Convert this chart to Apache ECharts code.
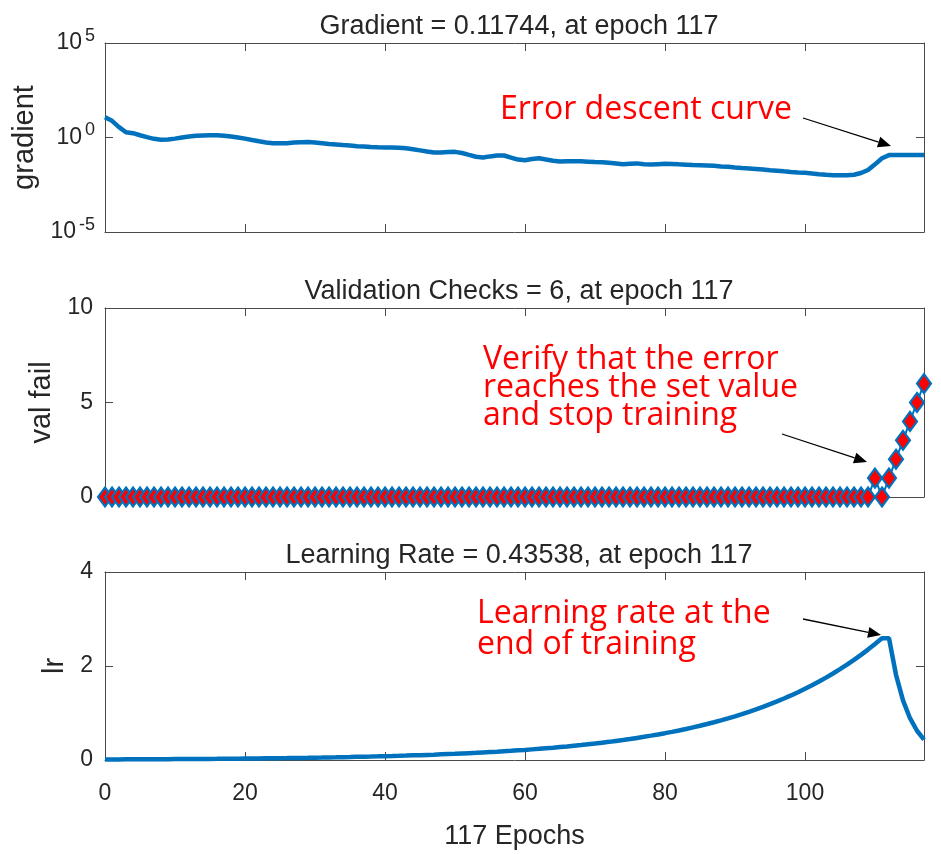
<!DOCTYPE html>
<html>
<head>
<meta charset="utf-8">
<title>Training performance</title>
<script src="https://cdn.jsdelivr.net/npm/echarts@6/dist/echarts.min.js"></script>
<style>
  html, body { margin: 0; padding: 0; background: #fff; }
  #chart { width: 941px; height: 854px; }
</style>
</head>
<body>
<div id="chart"></div>
<script>
// Gradient of the performance function, one value per epoch (0..117)
const gradient = [
  11.75, 7.59, 3.55, 1.905, 1.698, 1.318, 1.047, 0.851, 0.759, 0.776,
  0.871, 1.0, 1.122, 1.230, 1.288, 1.318, 1.318, 1.230, 1.122, 1.0,
  0.871, 0.741, 0.631, 0.550, 0.501, 0.490, 0.501, 0.537, 0.562, 0.575,
  0.537, 0.501, 0.457, 0.427, 0.398, 0.372, 0.347, 0.331, 0.316, 0.302,
  0.295, 0.295, 0.288, 0.269, 0.240, 0.209, 0.182, 0.162, 0.162, 0.170,
  0.174, 0.151, 0.120, 0.0955, 0.0871, 0.100, 0.112, 0.112, 0.0871, 0.0676,
  0.0631, 0.0724, 0.0794, 0.0692, 0.0589, 0.0537, 0.0550, 0.0562, 0.0550, 0.0525,
  0.0501, 0.0490, 0.0457, 0.0417, 0.0380, 0.0407, 0.0427, 0.0380, 0.0372, 0.0389,
  0.0407, 0.0398, 0.0380, 0.0363, 0.0347, 0.0339, 0.0331, 0.0316, 0.0295, 0.0282,
  0.0257, 0.0240, 0.0229, 0.0214, 0.0200, 0.0186, 0.0174, 0.0162, 0.0151, 0.0141,
  0.0135, 0.0126, 0.0115, 0.0107, 0.0102, 0.0100, 0.0100, 0.0107, 0.0132, 0.0191,
  0.0380, 0.0794, 0.11744, 0.11744, 0.11744, 0.11744, 0.11744, 0.11744
];

// Validation failure count per epoch
const valFail = [
  0, 0, 0, 0, 0, 0, 0, 0, 0, 0,
  0, 0, 0, 0, 0, 0, 0, 0, 0, 0,
  0, 0, 0, 0, 0, 0, 0, 0, 0, 0,
  0, 0, 0, 0, 0, 0, 0, 0, 0, 0,
  0, 0, 0, 0, 0, 0, 0, 0, 0, 0,
  0, 0, 0, 0, 0, 0, 0, 0, 0, 0,
  0, 0, 0, 0, 0, 0, 0, 0, 0, 0,
  0, 0, 0, 0, 0, 0, 0, 0, 0, 0,
  0, 0, 0, 0, 0, 0, 0, 0, 0, 0,
  0, 0, 0, 0, 0, 0, 0, 0, 0, 0,
  0, 0, 0, 0, 0, 0, 0, 0, 0, 0,
  1, 0, 1, 2, 3, 4, 5, 6
];

// Adaptive learning rate per epoch
const learningRate = [
  0.0115, 0.0121, 0.0127, 0.0133, 0.0140, 0.0147, 0.0154, 0.0162, 0.0170, 0.0179,
  0.0188, 0.0197, 0.0207, 0.0217, 0.0228, 0.0239, 0.0251, 0.0264, 0.0277, 0.0291,
  0.0306, 0.0321, 0.0337, 0.0354, 0.0371, 0.0390, 0.0409, 0.0430, 0.0451, 0.0474,
  0.0498, 0.0523, 0.0549, 0.0576, 0.0605, 0.0635, 0.0667, 0.0700, 0.0735, 0.0772,
  0.0811, 0.0851, 0.0894, 0.0938, 0.0985, 0.103, 0.109, 0.114, 0.120, 0.126,
  0.132, 0.139, 0.146, 0.153, 0.161, 0.169, 0.177, 0.186, 0.195, 0.205,
  0.215, 0.226, 0.237, 0.249, 0.261, 0.275, 0.288, 0.303, 0.318, 0.334,
  0.350, 0.368, 0.386, 0.406, 0.426, 0.447, 0.470, 0.493, 0.518, 0.544,
  0.571, 0.599, 0.629, 0.661, 0.694, 0.728, 0.765, 0.803, 0.843, 0.885,
  0.930, 0.976, 1.025, 1.076, 1.130, 1.187, 1.246, 1.308, 1.374, 1.442,
  1.514, 1.590, 1.670, 1.753, 1.841, 1.933, 2.029, 2.131, 2.237, 2.349,
  2.467, 2.590, 2.590, 1.813, 1.269, 0.889, 0.622, 0.43538
];

const panelTitles = [
  'Gradient = 0.11744, at epoch 117',
  'Validation Checks = 6, at epoch 117',
  'Learning Rate = 0.43538, at epoch 117'
];
const yNames = ['gradient', 'val fail', 'lr'];
const xName = '117 Epochs';
const epochMax = 117;

const notes = {
  gradient: 'Error descent curve',
  valFail: 'Verify that the error\nreaches the set value\nand stop training',
  lr: 'Learning rate at the\nend of training'
};

const BLUE = '#0072BD';
const RED = '#FF0000';
const AXIS = '#4a4a4a';
const TEXT = '#262626';
const FONT = '"Liberation Sans", Arial, sans-serif';

const pairs = arr => arr.map((v, i) => [i, v]);

const grids = [
  { left: 105, top: 43, width: 819, height: 189 },
  { left: 105, top: 308, width: 819, height: 189 },
  { left: 105, top: 572, width: 819, height: 188 }
];

function xAxis(gridIndex, position, withLabels) {
  const ax = {
    type: 'value', gridIndex, position,
    min: 0, max: epochMax, interval: 20,
    axisLine: { show: true, onZero: false, lineStyle: { color: AXIS, width: 1 } },
    axisTick: { show: true, inside: true, length: 8, lineStyle: { color: AXIS } },
    axisLabel: { show: withLabels, margin: 22, fontSize: 23, color: TEXT, fontFamily: FONT, showMaxLabel: false },
    splitLine: { show: false }
  };
  if (withLabels) {
    ax.name = xName;
    ax.nameLocation = 'middle';
    ax.nameGap = 63;
    ax.nameTextStyle = { fontSize: 27, color: TEXT, fontFamily: FONT };
  }
  return ax;
}

function yAxis(gridIndex, position, scale, name, nameGap) {
  const ax = Object.assign({
    gridIndex, position,
    axisLine: { show: true, onZero: false, lineStyle: { color: AXIS, width: 1 } },
    axisTick: { show: true, inside: true, length: 8, lineStyle: { color: AXIS } },
    axisLabel: { show: position === 'left', margin: 12, fontSize: 23, color: TEXT, fontFamily: FONT },
    splitLine: { show: false },
    minorTick: { show: false }
  }, scale);
  if (name && position === 'left') {
    ax.name = name;
    ax.nameLocation = 'middle';
    ax.nameGap = nameGap;
    ax.nameRotate = 90;
    ax.nameTextStyle = { fontSize: 29, color: TEXT, fontFamily: FONT };
  }
  return ax;
}

const logScale = {
  type: 'log', logBase: 10, min: 1e-5, max: 1e5, interval: 5
};
const valScale = { type: 'value', min: 0, max: 10, interval: 5 };
const lrScale = { type: 'value', min: 0, max: 4, interval: 2 };

const gradY = yAxis(0, 'left', logScale, yNames[0], 57);
gradY.axisLabel.margin = 10;
gradY.axisLabel.formatter = v => '{b|10}{s|' + Math.round(Math.log10(v)) + '}';
gradY.axisLabel.rich = {
  b: { fontSize: 23, fontFamily: FONT, color: TEXT, lineHeight: 24, verticalAlign: 'middle' },
  s: { fontSize: 18, fontFamily: FONT, color: TEXT, lineHeight: 18, padding: [0, 0, 14, 3], verticalAlign: 'middle' }
};

// Arrow annotation built from a line and a filled head
function arrow(x1, y1, x2, y2) {
  const ang = Math.atan2(y2 - y1, x2 - x1);
  const len = 13, half = 5.5;
  const bx = x2 - len * Math.cos(ang), by = y2 - len * Math.sin(ang);
  const px = -Math.sin(ang) * half, py = Math.cos(ang) * half;
  return [
    { type: 'line', shape: { x1, y1, x2: bx, y2: by }, style: { stroke: '#000', lineWidth: 1.3 }, z: 100 },
    { type: 'polygon', shape: { points: [[x2, y2], [bx + px, by + py], [bx - px, by - py]] }, style: { fill: '#000' }, z: 100 }
  ];
}

const noteFont = '32px "Open Sans", "Noto Sans", sans-serif';

const option = {
  animation: false,
  backgroundColor: '#ffffff',
  textStyle: { fontFamily: FONT, color: TEXT },
  title: [
    { text: panelTitles[0], left: 514, top: 8, textAlign: 'center' },
    { text: panelTitles[1], left: 514, top: 273, textAlign: 'center' },
    { text: panelTitles[2], left: 514, top: 537, textAlign: 'center' }
  ].map(t => Object.assign(t, {
    textStyle: { fontSize: 27, fontWeight: 'normal', color: TEXT, fontFamily: FONT }
  })),
  grid: grids,
  xAxis: [
    xAxis(0, 'bottom', false), xAxis(0, 'top', false),
    xAxis(1, 'bottom', false), xAxis(1, 'top', false),
    xAxis(2, 'bottom', true), xAxis(2, 'top', false)
  ],
  yAxis: [
    gradY, yAxis(0, 'right', logScale),
    yAxis(1, 'left', valScale, yNames[1], 43), yAxis(1, 'right', valScale),
    yAxis(2, 'left', lrScale, yNames[2], 32), yAxis(2, 'right', lrScale)
  ],
  series: [
    {
      name: 'gradient', type: 'line', xAxisIndex: 0, yAxisIndex: 0,
      data: pairs(gradient), showSymbol: false,
      lineStyle: { color: BLUE, width: 4.5 }
    },
    {
      name: 'val fail', type: 'line', xAxisIndex: 2, yAxisIndex: 2,
      data: pairs(valFail), clip: false,
      symbol: 'diamond', symbolSize: [14, 19], showAllSymbol: true,
      itemStyle: { color: RED, borderColor: BLUE, borderWidth: 2.2 },
      lineStyle: { color: BLUE, width: 2 }
    },
    {
      name: 'lr', type: 'line', xAxisIndex: 4, yAxisIndex: 4,
      data: pairs(learningRate), showSymbol: false,
      lineStyle: { color: BLUE, width: 4.5 }
    }
  ],
  graphic: [
    { type: 'text', x: 500, y: 110, z: 100,
      style: { text: notes.gradient, fill: RED, font: noteFont, verticalAlign: 'middle' } },
    { type: 'text', x: 483, y: 346, z: 100,
      style: { text: notes.valFail, fill: RED, font: noteFont, lineHeight: 28, verticalAlign: 'top' } },
    { type: 'text', x: 477, y: 598, z: 100,
      style: { text: notes.lr, fill: RED, font: noteFont, lineHeight: 31, verticalAlign: 'top' } },
    ...arrow(803, 118, 891, 146),
    ...arrow(782, 434, 867, 462),
    ...arrow(803, 619, 881, 635)
  ]
};

const chart = echarts.init(document.getElementById('chart'), null, { renderer: 'canvas' });
chart.setOption(option);
</script>
</body>
</html>
